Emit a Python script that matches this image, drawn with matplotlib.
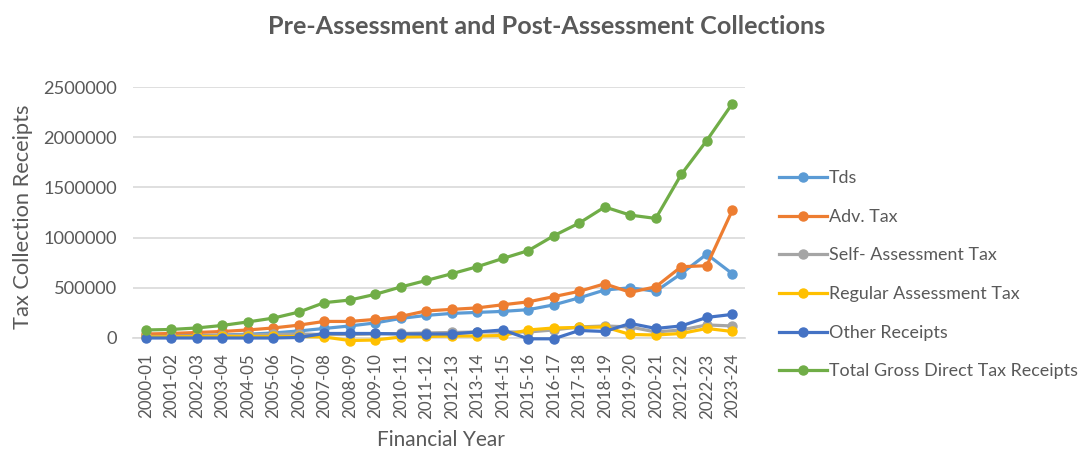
import matplotlib
matplotlib.use("Agg")
import matplotlib.pyplot as plt
from matplotlib.ticker import FixedLocator, FuncFormatter

years = ['2000-01', '2001-02', '2002-03', '2003-04', '2004-05', '2005-06', '2006-07',
         '2007-08', '2008-09', '2009-10', '2010-11', '2011-12', '2012-13', '2013-14',
         '2014-15', '2015-16', '2016-17', '2017-18', '2018-19', '2019-20', '2020-21',
         '2021-22', '2022-23', '2023-24']

tds = [20000, 22000, 25000, 30000, 38000, 50000, 70000, 95000, 120000, 150000, 195000,
       225000, 245000, 255000, 265000, 282000, 330000, 400000, 478000, 500000, 465000,
       641000, 835000, 641000]
adv_tax = [40000, 45000, 55000, 65000, 80000, 100000, 128000, 165000, 165000, 185000, 215000,
           270000, 285000, 300000, 331000, 360000, 412000, 465000, 540000, 455000, 510000,
           710000, 720000, 1270000]
self_assessment = [15000, 15000, 20000, 25000, 30000, 35000, 40000, 35000, 35000, 40000, 45000,
                   50000, 55000, 60000, 60000, 60000, 80000, 110000, 120000, 110000, 60000,
                   80000, 130000, 120000]
regular_assessment = [10000, 12000, 15000, 15000, 15000, 15000, 15000, 10000, -25000, -20000,
                      10000, 15000, 20000, 20000, 25000, 80000, 100000, 105000, 110000, 35000,
                      30000, 45000, 95000, 65000]
other_receipts = [0, 0, 0, 0, 0, 0, 5000, 45000, 45000, 45000, 40000, 40000, 40000, 60000,
                  80000, -8000, -8000, 75000, 65000, 145000, 95000, 120000, 205000, 235000]
total_gross = [80000, 85000, 100000, 125000, 160000, 198000, 258000, 352000, 378000, 435000,
               508000, 573000, 640000, 710000, 792000, 870000, 1018000, 1145000, 1305000,
               1224000, 1191000, 1629000, 1967000, 2333000]

series = [
    ("Tds", tds, "#5B9BD5"),
    ("Adv. Tax", adv_tax, "#ED7D31"),
    ("Self- Assessment Tax", self_assessment, "#A5A5A5"),
    ("Regular Assessment Tax", regular_assessment, "#FFC000"),
    ("Other Receipts", other_receipts, "#4472C4"),
    ("Total Gross Direct Tax Receipts", total_gross, "#70AD47"),
]
y_ticks = [0, 500000, 1000000, 1500000, 2000000, 2500000]
title = "Pre-Assessment and Post-Assessment Collections"
x_title = "Financial Year"
y_title = "Tax Collection Receipts"

plt.rcParams['font.family'] = ['Lato', 'DejaVu Sans']
txt = "#595959"

fig = plt.figure(figsize=(10.9, 4.53), dpi=100)
renderer = fig.canvas.get_renderer()


def fit_size(s, target_px, weight='normal'):
    t = fig.text(0, 0, s, fontsize=10, fontweight=weight)
    w = t.get_window_extent(renderer=renderer).width
    t.remove()
    return 10 * target_px / w


fs_title = fit_size(title, 559, 'bold')
fs_ytick = fit_size("2500000", 74)
fs_xtick = fit_size("2000-01", 65)
fs_ylab = fit_size(y_title, 225)
fs_xlab = fit_size(x_title, 128)
fs_leg = fit_size("Total Gross Direct Tax Receipts", 248)
fs_leg_px = fs_leg * 100 / 72
leg_spacing = 36.6 / fs_leg_px - 0.78

ax_l, ax_r, ax_t, ax_b = 133, 745, 87, 338
ax = fig.add_axes([ax_l/1090, 1 - ax_b/453, (ax_r-ax_l)/1090, (ax_b-ax_t)/453])

x = list(range(len(years)))
for name, vals, col in series:
    ax.plot(x, vals, color=col, lw=2.3, marker='o', ms=6.5, label=name, zorder=3,
            clip_on=False)

ax.set_xlim(-0.5, len(years) - 0.5)
ax.set_ylim(0, 2500000)
ax.yaxis.set_major_locator(FixedLocator(y_ticks))
ax.yaxis.set_major_formatter(FuncFormatter(lambda v, p: f"{int(v)}"))
ax.set_xticks(x)
ax.set_xticklabels(years, rotation=90)
ax.grid(axis='y', color="#D9D9D9", lw=1.2, zorder=0)
for s in ['top', 'right', 'left']:
    ax.spines[s].set_visible(False)
ax.spines['bottom'].set_color("#D9D9D9")
ax.spines['bottom'].set_linewidth(1.2)
ax.tick_params(axis='both', length=0, colors=txt)
ax.tick_params(axis='y', labelsize=fs_ytick, pad=11.5)
ax.tick_params(axis='x', labelsize=fs_xtick, pad=11)

ax.set_xlabel(x_title, color=txt, fontsize=fs_xlab)
ax.xaxis.label.set_va('center')
ax.xaxis.set_label_coords((441 - ax_l) / (ax_r - ax_l), (ax_b - 440) / (ax_b - ax_t))
ax.set_ylabel(y_title, color=txt, fontsize=fs_ylab)
ax.yaxis.label.set_va('center')
ax.yaxis.set_label_coords((23 - ax_l) / (ax_r - ax_l), (ax_b - 217) / (ax_b - ax_t))

fig.text(547/1090, 1 - 26/453, title,
         ha='center', va='center', fontsize=fs_title, fontweight='bold', color=txt)

leg = fig.legend(loc='upper left', bbox_to_anchor=(772/1090, 1 - 163/453), frameon=False,
                 fontsize=fs_leg, labelcolor=txt, handlelength=2.7, handletextpad=0.1,
                 labelspacing=leg_spacing, borderaxespad=0)

fig.savefig("out.png", dpi=100)
